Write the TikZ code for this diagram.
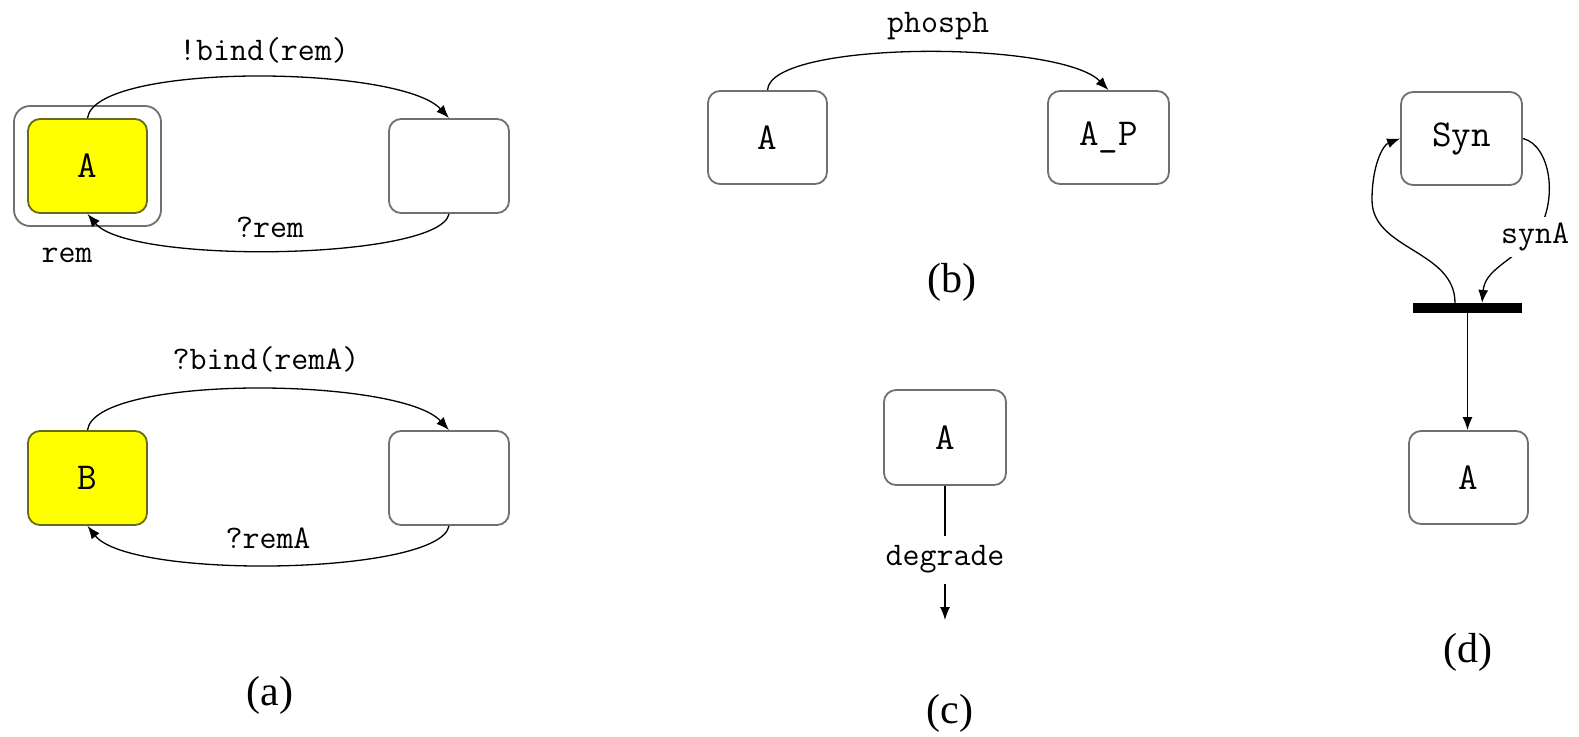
\documentclass[tikz,border=0pt]{standalone}
\usepackage{fontspec}
\setmainfont{Liberation Serif}
\usetikzlibrary{arrows.meta}
\definecolor{edgegray}{RGB}{112,112,112}
\definecolor{stateyellow}{RGB}{255,255,0}
\definecolor{yellowedge}{RGB}{105,105,30}
\begin{document}
\begin{tikzpicture}[x=1pt,y=-1pt,
  state/.style={draw=edgegray, line width=1.8pt, rounded corners=12pt, fill=white,
    inner sep=0pt, font=\ttfamily\fontsize{38}{38}\selectfont},
  active/.style={state, fill=stateyellow, draw=yellowedge},
  lbl/.style={font=\ttfamily\fontsize{33}{33}\selectfont, inner sep=1pt},
  caption/.style={font=\fontsize{42}{42}\selectfont, inner sep=0pt},
  conn/.style={line width=1.3pt, -{Latex[length=13pt,width=10pt]}}]
\useasboundingbox (0,0) rectangle (1579,736);

% ---------- (a) upper: A inside the rem compartment ----------
\node[state, minimum width=147pt, minimum height=120pt, rounded corners=16pt] (remBox) at (87.5,166) {};
\node[active, minimum width=119pt, minimum height=94pt] (aA) at (87.5,166) {A};
\node[state, minimum width=120pt, minimum height=94pt] (aR1) at (449,166) {};
\draw[conn] (aA.north) .. controls (95,62) and (400,65) .. (aR1.north);
\draw[conn] (aR1.south) .. controls (440,260) and (130,265) .. (aA.south);
\node[lbl] (lBindRem) at (264,50) {!bind(rem)};
\node[lbl] (lRem) at (270,227) {?rem};
\node[lbl] (lRemName) at (67,255) {rem};

% ---------- (a) lower: B ----------
\node[active, minimum width=119pt, minimum height=94pt] (aB) at (87.5,478) {B};
\node[state, minimum width=120pt, minimum height=94pt] (aR2) at (449,478) {};
\draw[conn] (aB.north) .. controls (95,374) and (400,377) .. (aR2.north);
\draw[conn] (aR2.south) .. controls (440,575) and (130,580) .. (aB.south);
\node[lbl] (lBindRemA) at (266,359) {?bind(remA)};
\node[lbl] (lRemA) at (268,538) {?remA};
\node[caption] (capA) at (270,695) {(a)};

% ---------- (b) phosphorylation ----------
\node[state, minimum width=119pt, minimum height=93pt] (bA) at (767.5,137.5) {A};
\node[state, minimum width=121pt, minimum height=93pt] (bAP) at (1108.5,137.5) {A\_P};
\draw[conn] (bA.north) .. controls (770,40) and (1060,40) .. (bAP.north);
\node[lbl] (lPhosph) at (938,26) {phosph};
\node[caption] (capB) at (952,282) {(b)};

% ---------- (c) degradation ----------
\node[state, minimum width=122pt, minimum height=95pt] (cA) at (945,437.5) {A};
\coordinate (cEnd) at (945,620);
\draw[conn] (cA.south) -- node[lbl, fill=white, inner xsep=4pt, inner ysep=10pt, pos=0.55] (lDegrade) {degrade} (cEnd);
\node[caption] (capC) at (950,713) {(c)};

% ---------- (d) synthesis ----------
\node[state, minimum width=121pt, minimum height=93pt] (dSyn) at (1461.5,138.5) {Syn};
\node[state, minimum width=119pt, minimum height=93pt] (dA) at (1468.5,477.5) {A};
\node[fill=black, minimum width=109pt, minimum height=10pt, inner sep=0pt] (bar) at (1467.5,308) {};
\coordinate (barIn) at (1482,303);
\coordinate (barOut) at (1455,303);
\draw[conn] (dSyn.east) .. controls (1550,145) and (1560,200) .. (1535,237)
  node[lbl, fill=white, inner sep=6pt] (lSynA) {synA}
  .. controls (1510,262) and (1485,270) .. (barIn);
\draw[conn] (barOut) .. controls (1455,250) and (1372,250) .. (1372,200)
  .. controls (1372,165) and (1383,145) .. (dSyn.west);
\draw[conn] (bar.south) -- (bar.south |- dA.north);
\node[caption] (capD) at (1468,652) {(d)};
\end{tikzpicture}
\end{document}
